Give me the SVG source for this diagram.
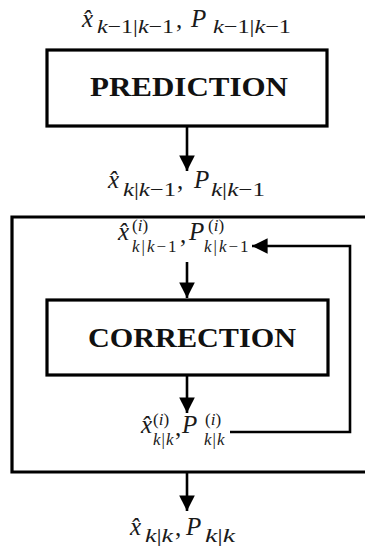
<svg xmlns="http://www.w3.org/2000/svg" width="365" height="550" viewBox="0 0 365 550">
  <style>
    .box { fill: #ffffff; stroke: #000000; stroke-width: 3.2; }
    .frame { fill: none; stroke: #000000; stroke-width: 3.2; }
    .wire { fill: none; stroke: #000000; stroke-width: 2.6; }
    .title { font-family: "Liberation Serif", "DejaVu Serif", serif; font-weight: bold; font-size: 27px; fill: #111111; }
    .m { font-family: "Liberation Serif", "DejaVu Serif", serif; font-style: italic; font-size: 25px; fill: #1a1a1a; }
    .sub { font-family: "Liberation Serif", "DejaVu Serif", serif; font-style: italic; font-size: 19px; fill: #1a1a1a; }
    .ss { font-size: 17px; }
    .u { font-style: normal; }
  </style>
  <defs>
    <marker id="arrow" viewBox="0 0 10 10" refX="10" refY="5" markerWidth="6" markerHeight="6" markerUnits="strokeWidth" orient="auto">
      <path d="M0,0 L10,5 L0,10 Z" fill="#000000"/>
    </marker>
  </defs>

  <!-- outer correction loop frame (runs off the right edge) -->
  <g id="loop-frame">
    <path class="frame" d="M368,217 H12 V472 H368"/>
  </g>

  <!-- prediction step -->
  <g id="prediction">
    <rect class="box" x="47" y="50" width="280" height="76"/>
    <text class="title" x="189" y="96" text-anchor="middle" textLength="198" lengthAdjust="spacingAndGlyphs">PREDICTION</text>
  </g>

  <!-- correction step -->
  <g id="correction">
    <rect class="box" x="47" y="300" width="281" height="75"/>
    <text class="title" x="192" y="347" text-anchor="middle" textLength="208" lengthAdjust="spacingAndGlyphs">CORRECTION</text>
  </g>

  <!-- state estimates: x-hat and P with sub/superscripts -->
  <g id="prior-estimate">
    <text class="m" x="82" y="27">x̂</text>
    <text class="sub" x="97" y="33" textLength="77" lengthAdjust="spacingAndGlyphs">k<tspan class="u">−1|</tspan>k<tspan class="u">−1</tspan></text>
    <text class="m u" x="176" y="28">,</text>
    <text class="m" x="191" y="27">P</text>
    <text class="sub" x="213" y="33" textLength="78" lengthAdjust="spacingAndGlyphs">k<tspan class="u">−1|</tspan>k<tspan class="u">−1</tspan></text>
  </g>

  <g id="predicted-estimate">
    <text class="m" x="108" y="188">x̂</text>
    <text class="sub" x="123" y="196" textLength="53" lengthAdjust="spacingAndGlyphs">k<tspan class="u">|</tspan>k<tspan class="u">−1</tspan></text>
    <text class="m u" x="177" y="189">,</text>
    <text class="m" x="194" y="188">P</text>
    <text class="sub" x="211" y="196" textLength="54" lengthAdjust="spacingAndGlyphs">k<tspan class="u">|</tspan>k<tspan class="u">−1</tspan></text>
  </g>

  <g id="iterate-prior">
    <text class="m"><tspan x="118" y="240">x̂</tspan><tspan class="ss" x="132" y="231"><tspan class="u">(</tspan>i<tspan class="u">)</tspan></tspan><tspan class="ss" x="132" y="252" letter-spacing="2">k<tspan class="u">|</tspan>k<tspan class="u">−1</tspan></tspan><tspan class="u" x="180" y="243">,</tspan><tspan x="189" y="240">P</tspan><tspan class="ss" x="208" y="231"><tspan class="u">(</tspan>i<tspan class="u">)</tspan></tspan><tspan class="ss" x="204" y="252" letter-spacing="2">k<tspan class="u">|</tspan>k<tspan class="u">−1</tspan></tspan></text>
  </g>

  <g id="iterate-posterior">
    <text class="m"><tspan x="141" y="433">x̂</tspan><tspan class="ss" x="153" y="425"><tspan class="u">(</tspan>i<tspan class="u">)</tspan></tspan><tspan class="ss" x="153" y="445" letter-spacing="1">k<tspan class="u">|</tspan>k</tspan><tspan class="u" x="175" y="436">,</tspan><tspan x="182" y="433">P</tspan><tspan class="ss" x="205" y="425"><tspan class="u">(</tspan>i<tspan class="u">)</tspan></tspan><tspan class="ss" x="204" y="445" letter-spacing="1">k<tspan class="u">|</tspan>k</tspan></text>
  </g>

  <g id="posterior-estimate">
    <text class="m" x="130" y="535">x̂</text>
    <text class="sub" x="145" y="542" textLength="28" lengthAdjust="spacingAndGlyphs">k<tspan class="u">|</tspan>k</text>
    <text class="m u" x="175" y="536">,</text>
    <text class="m" x="186" y="535">P</text>
    <text class="sub" x="205" y="542" textLength="30" lengthAdjust="spacingAndGlyphs">k<tspan class="u">|</tspan>k</text>
  </g>

  <!-- connectors -->
  <g id="connectors">
    <line class="wire" x1="187" y1="126" x2="187" y2="171" marker-end="url(#arrow)"/>
    <line class="wire" x1="187" y1="262" x2="187" y2="298" marker-end="url(#arrow)"/>
    <line class="wire" x1="187" y1="375" x2="187" y2="413" marker-end="url(#arrow)"/>
    <line class="wire" x1="187" y1="472" x2="187" y2="511" marker-end="url(#arrow)"/>
    <path class="wire" d="M230,432 H350 V246 H252" marker-end="url(#arrow)"/>
  </g>
</svg>
